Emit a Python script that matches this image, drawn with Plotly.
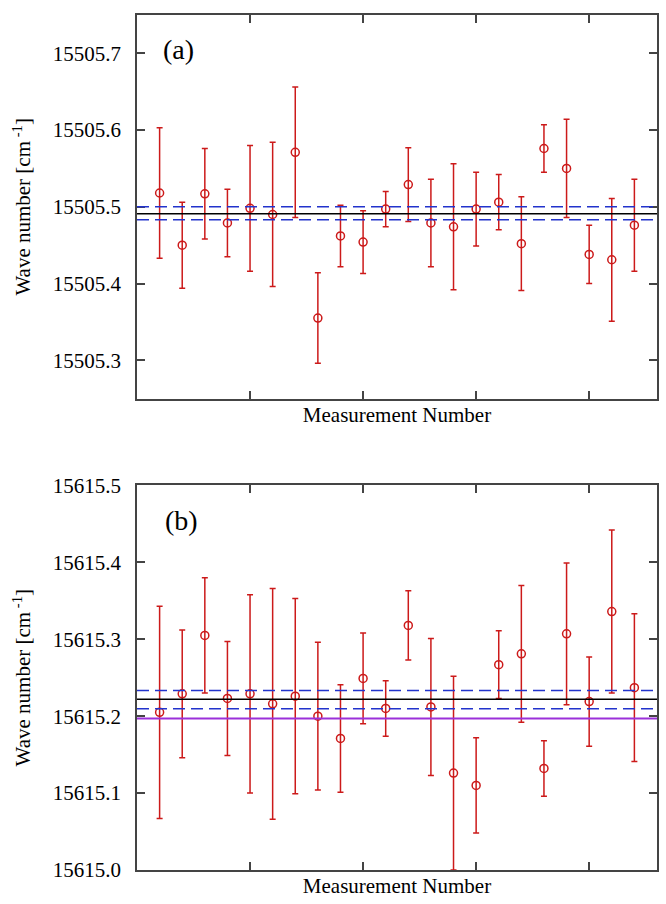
import plotly.graph_objects as go
from plotly.subplots import make_subplots

# measurement index
meas = list(range(1, 23))

# panel (a) wave numbers and errors
wn_a = [15505.518, 15505.450, 15505.517, 15505.479, 15505.498, 15505.490, 15505.571,
        15505.355, 15505.462, 15505.454, 15505.497, 15505.529, 15505.479, 15505.474,
        15505.497, 15505.506, 15505.452, 15505.576, 15505.550, 15505.438, 15505.431,
        15505.476]
err_a = [0.085, 0.056, 0.059, 0.044, 0.082, 0.094, 0.085, 0.059, 0.040, 0.041, 0.023,
         0.048, 0.057, 0.082, 0.048, 0.036, 0.061, 0.031, 0.064, 0.038, 0.080, 0.060]
mean_a = 15505.491
band_a = [15505.500, 15505.483]

# panel (b) wave numbers and errors
wn_b = [15615.205, 15615.229, 15615.305, 15615.223, 15615.229, 15615.216, 15615.226,
        15615.200, 15615.171, 15615.249, 15615.210, 15615.318, 15615.212, 15615.126,
        15615.110, 15615.267, 15615.281, 15615.132, 15615.307, 15615.219, 15615.336,
        15615.237]
err_b = [0.138, 0.083, 0.075, 0.074, 0.129, 0.150, 0.127, 0.096, 0.070, 0.059, 0.036,
         0.045, 0.089, 0.126, 0.062, 0.044, 0.089, 0.036, 0.092, 0.058, 0.106, 0.096]
mean_b = 15615.222
band_b = [15615.2335, 15615.2098]
ref_b = 15615.197

ticks_a = [15505.3, 15505.4, 15505.5, 15505.6, 15505.7]
ticks_b = [15615.0, 15615.1, 15615.2, 15615.3, 15615.4, 15615.5]

RED = '#cc1a1a'
BLUE = '#2233cc'
FONT = 'Liberation Serif'

fig = make_subplots(rows=2, cols=1, vertical_spacing=0.1)

for row, wn, err in [(1, wn_a, err_a), (2, wn_b, err_b)]:
    fig.add_trace(go.Scatter(
        x=meas, y=wn, mode='markers',
        marker=dict(symbol='circle-open', size=8, color=RED, line=dict(width=1.5)),
        error_y=dict(type='data', array=err, color=RED, thickness=1.5, width=3),
        showlegend=False
    ), row=row, col=1)

# mean lines and uncertainty bands
fig.add_hline(y=mean_a, line=dict(color='black', width=1.5), row=1, col=1)
for b in band_a:
    fig.add_hline(y=b, line=dict(color=BLUE, width=1.5, dash='12px,6px'), row=1, col=1)
fig.add_hline(y=mean_b, line=dict(color='black', width=1.5), row=2, col=1)
for b in band_b:
    fig.add_hline(y=b, line=dict(color=BLUE, width=1.5, dash='12px,6px'), row=2, col=1)
fig.add_hline(y=ref_b, line=dict(color='#9b30d9', width=2), row=2, col=1)

axis_style = dict(showline=True, linecolor='#444', linewidth=1.5, mirror='ticks',
                  ticks='inside', ticklen=8, tickwidth=1.5, tickcolor='#444',
                  showgrid=False, zeroline=False)

fig.update_xaxes(range=[0, 23], tickvals=[5, 10, 15, 20], showticklabels=False,
                 title=dict(text='Measurement Number', font=dict(size=21, family=FONT), standoff=8),
                 **axis_style)
fig.update_yaxes(title=dict(text='Wave number [cm<sup> -1</sup>]', font=dict(size=21, family=FONT),
                            standoff=16),
                 tickfont=dict(size=21, family=FONT, color='black'), ticklabelstandoff=10,
                 **axis_style)
fig.update_yaxes(range=[15505.25, 15505.75], tickvals=ticks_a, tickformat='.1f', row=1, col=1)
fig.update_yaxes(range=[15615.0, 15615.5], tickvals=ticks_b, tickformat='.1f', row=2, col=1)

fig.update_layout(
    width=666, height=904,
    margin=dict(l=137, r=9, t=3, b=34),
    plot_bgcolor='white', paper_bgcolor='white',
    font=dict(family=FONT, color='black'),
    yaxis=dict(domain=[0.5513, 1.0]),
    yaxis2=dict(domain=[0.0, 0.4498]),
    annotations=[
        dict(text='(a)', x=1.85, y=15505.705, xref='x', yref='y', showarrow=False,
             font=dict(size=28, family=FONT)),
        dict(text='(b)', x=1.95, y=15615.455, xref='x2', yref='y2', showarrow=False,
             font=dict(size=28, family=FONT)),
    ]
)

fig.write_html("out.html", config={'displayModeBar': False},
               post_script="document.body.style.margin='0';")
